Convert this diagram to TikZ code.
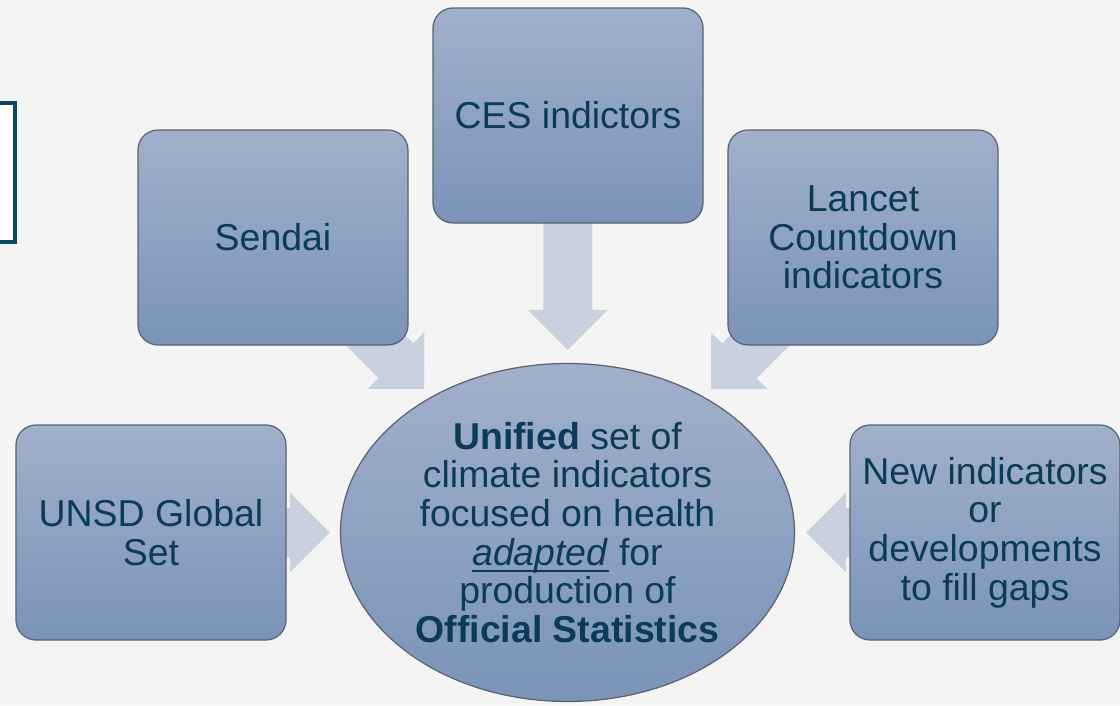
\documentclass[tikz,border=0pt]{standalone}
\usepackage{fontspec}
\setmainfont{Liberation Sans}
\usetikzlibrary{shapes.geometric,arrows.meta,backgrounds}
\definecolor{pageBg}{HTML}{F4F4F4}
\definecolor{textColor}{HTML}{0A3C5A}
\definecolor{boxTop}{HTML}{A1B0CB}
\definecolor{boxBottom}{HTML}{7A93B8}
\definecolor{boxLine}{HTML}{5B6272}
\definecolor{arrowColor}{HTML}{C9D1DE}
\definecolor{frameColor}{HTML}{0C4864}
% underline sitting just under the baseline
\newcommand{\ulword}[1]{\setbox0\hbox{#1}\rlap{\rule[-3.6pt]{\wd0}{0.9pt}}\box0\relax}
\tikzset{
  source/.style={rectangle, rounded corners=0.4cm, draw=boxLine, line width=0.7pt,
    top color=boxTop, bottom color=boxBottom, minimum width=5.4cm, minimum height=4.3cm,
    align=center, text=textColor, font=\fontsize{21.3}{22}\selectfont},
  target/.style={ellipse, draw=boxLine, line width=0.7pt, top color=boxTop, bottom color=boxBottom,
    minimum width=9.08cm, minimum height=6.76cm, inner sep=0pt,
    align=center, text=textColor, font=\fontsize{21.3}{22}\selectfont},
  feed/.style={arrowColor, line width=0.98cm, -{Triangle[width=1.6cm,length=0.8cm,line width=0pt]}}
}

\begin{document}
\begin{tikzpicture}
\useasboundingbox (0,0) rectangle (22.4,14.1);

% sources around the centre
\node[source] (ces) at (11.36,11.79) {CES indictors};
\node[source] (sendai) at (5.46,9.35) {Sendai};
\node[source] (lancet) at (17.26,9.35) {Lancet\\Countdown\\indicators};
\node[source] (unsd) at (3.02,3.45) {UNSD Global\\Set};
\node[source] (newind) at (19.7,3.45) {New indicators\\or\\developments\\to fill gaps};

\node[target] (unified) at (11.35,3.45) {\textbf{Unified} set of\\climate indicators\\focused on health\\\ulword{\textit{adapted}} for\\production of\\\textbf{Official Statistics}};

% frame cut by the left edge
\draw[frameColor, line width=1.8pt, fill=white] (-0.2,9.26) rectangle (0.3,12.04);

\begin{scope}[on background layer]
  \fill[pageBg] (0,0) rectangle (22.4,14.1);
  \draw[feed, shorten >=0.26cm] (ces.center) -- (unified);
  \draw[feed, shorten >=0.21cm] (sendai.center) -- (unified);
  \draw[feed, shorten >=0.21cm] (lancet.center) -- (unified);
  \draw[feed, shorten >=0.2cm] (unsd.center) -- (unified);
  \draw[feed, shorten >=0.22cm] (newind.center) -- (unified);
\end{scope}
\end{tikzpicture}
\end{document}
